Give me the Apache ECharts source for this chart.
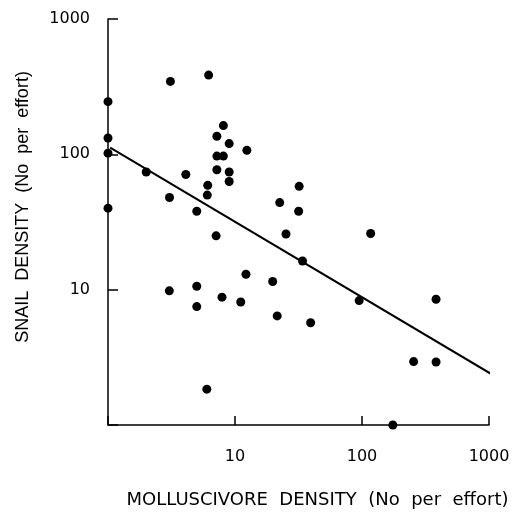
<!DOCTYPE html>
<html>
<head>
<meta charset="utf-8">
<script src="https://cdn.jsdelivr.net/npm/echarts@6/dist/echarts.min.js"></script>
<style>
  html, body { margin: 0; padding: 0; background: #fff; }
  #chart { width: 519px; height: 514px; }
</style>
</head>
<body>
<div id="chart"></div>
<script>
// Densidade de moluscívoros (x) e de caracóis (y), ambos por esforço
const molluscivoreDensity = [
    1, 1, 1, 1,
    3.1, 6.2,
    8.1, 7.2, 9.0, 12.4,
    7.2, 8.1,
    2.0, 4.1, 7.2, 9.0, 9.0, 6.1, 6.05,
    3.05, 5.0,
    32, 22.5, 31.7,
    7.1, 25.2, 117,
    34,
    12.2, 3.04, 5.0, 5.0, 7.9, 11.1,
    19.8, 21.5, 39.4, 95, 383,
    255, 383,
    6.0,
    175
];
const snailDensity = [
    245, 132, 102, 40,
    346, 385,
    163, 136, 120, 107,
    97, 97,
    74, 71, 77, 74, 63, 59, 50,
    48, 38,
    58, 44, 38,
    25, 25.8, 26,
    16.3,
    13, 9.8, 10.6, 7.5, 8.8, 8.1,
    11.5, 6.4, 5.7, 8.3, 8.5,
    2.94, 2.92,
    1.84,
    1
];
// Recta de regressão (extremos)
const fitX = [1.04, 1110];
const fitY = [112, 2.3];

const axisTicks = [1, 10, 100, 1000];

const chart = echarts.init(document.getElementById('chart'));

const labelFormatter = v => (v === axisTicks[0] ? '' : String(v));

chart.setOption({
    animation: false,
    grid: { left: 108, top: 19, right: 30, bottom: 87 },
    xAxis: {
        type: 'log',
        logBase: 10,
        min: 1,
        max: 1000,
        name: 'MOLLUSCIVORE  DENSITY  (No  per  effort)',
        nameLocation: 'middle',
        nameGap: 66,
        nameTextStyle: { color: '#000', fontSize: 18, fontFamily: 'DejaVu Sans', padding: [0, 0, 0, 38] },
        axisLine: { lineStyle: { color: '#000', width: 1.5 } },
        axisTick: { inside: true, length: 9, lineStyle: { color: '#000', width: 1.5 } },
        axisLabel: { color: '#000', fontSize: 16, fontFamily: 'DejaVu Sans', margin: 24, formatter: labelFormatter },
        splitLine: { show: false },
        minorTick: { show: false }
    },
    yAxis: {
        type: 'log',
        logBase: 10,
        min: 1,
        max: 1000,
        name: 'SNAIL  DENSITY  (No  per  effort)',
        nameLocation: 'middle',
        nameGap: 76,
        nameTextStyle: { color: '#000', fontSize: 18, fontFamily: 'Liberation Sans', padding: [0, 0, 0, 30] },
        axisLine: { lineStyle: { color: '#000', width: 1.5 } },
        axisTick: { inside: true, length: 10, lineStyle: { color: '#000', width: 1.5 } },
        axisLabel: { color: '#000', fontSize: 16, fontFamily: 'DejaVu Sans', margin: 18, formatter: labelFormatter },
        splitLine: { show: false }
    },
    series: [
        {
            type: 'scatter',
            symbol: 'circle',
            symbolSize: 9,
            clip: false,
            itemStyle: { color: '#000', opacity: 1 },
            data: molluscivoreDensity.map((x, i) => [x, snailDensity[i]])
        },
        {
            type: 'line',
            showSymbol: false,
            clip: false,
            lineStyle: { color: '#000', width: 2 },
            data: fitX.map((x, i) => [x, fitY[i]])
        }
    ]
});
</script>
</body>
</html>
